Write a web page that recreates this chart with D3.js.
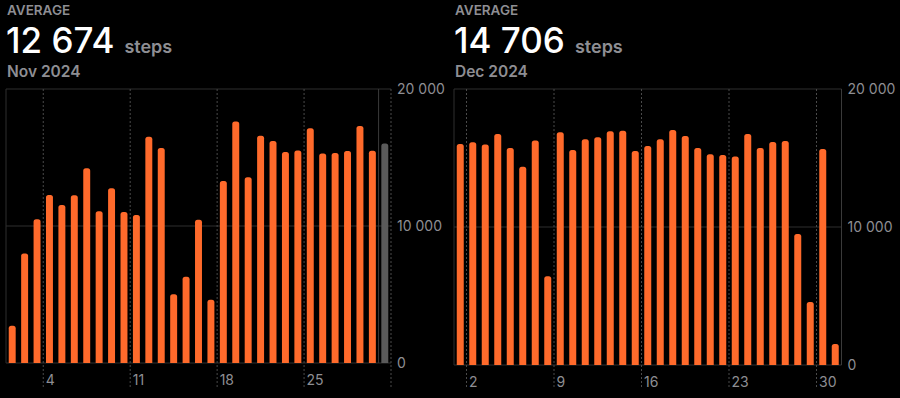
<!DOCTYPE html>
<html>
<head>
<meta charset="utf-8">
<script src="https://cdn.jsdelivr.net/npm/d3@7"></script>
<style>
  html, body { margin: 0; padding: 0; background: #000; }
  svg { display: block; font-family: Inter, "Noto Sans", sans-serif; }
</style>
</head>
<body>
<script>
// daily step counts
var novSteps = [2720, 8000, 10490, 12260, 11530, 12240, 14210, 11070, 12750, 11020,
                10800, 16520, 15690, 5010, 6300, 10460, 4620, 13290, 17620, 13550,
                16590, 16200, 15400, 15520, 17130, 15300, 15330, 15470, 17300, 15500];
var novNextDay = [16030];   // Dec 1, drawn grey after the month
var decSteps = [16010, 16140, 15970, 16740, 15730, 14370, 16260, 6430, 16860, 15580,
                16350, 16500, 16930, 16980, 15510, 15870, 16350, 17030, 16590, 15730,
                15270, 15220, 15100, 16740, 15730, 16160, 16230, 9490, 4570, 15650, 1520];
var averages = [12674, 14706];
var monthLabels = ["Nov 2024", "Dec 2024"];
var novTicks = [4, 11, 18, 25];
var decTicks = [2, 9, 16, 23, 30];
var yTicks = [0, 10000, 20000];

var w = 900, h = 398;
var orange = "#ff6a2b";
var grey = "#8e8e93";
var gridCol = "#2e2e2e";

var loc = d3.formatLocale({decimal: ".", thousands: " ", grouping: [3], currency: ["", ""]});
var fmt = loc.format(",");

var svg = d3.select("body").append("svg")
  .attr("width", w)
  .attr("height", h);

// bar with rounded top corners
function barPath(x, y, bw, bh, r) {
  r = Math.min(r, bh, bw / 2);
  return "M" + x + "," + (y + bh) +
    "V" + (y + r) +
    "Q" + x + "," + y + " " + (x + r) + "," + y +
    "H" + (x + bw - r) +
    "Q" + (x + bw) + "," + y + " " + (x + bw) + "," + (y + r) +
    "V" + (y + bh) + "Z";
}

function panel(p) {
  var g = svg.append("g");
  var days = d3.range(1, p.values.length + p.extra.length + 1);
  var all = p.values.map(function(v, i) { return {day: i + 1, v: v, extra: false}; })
    .concat(p.extra.map(function(v, i) { return {day: p.values.length + i + 1, v: v, extra: true}; }));

  var x = d3.scaleBand()
    .domain(days)
    .range([p.x0, p.x1])
    .paddingInner(0.44)
    .paddingOuter(0.22);
  var step = x.step();
  var slot = function(d) { return p.x0 + (d - 1) * step; };

  var y = d3.scaleLinear()
    .domain([0, 20000])
    .range([p.base, p.top]);

  // header
  g.append("text").attr("x", p.hx).attr("y", 15)
    .attr("fill", grey).style("font-size", "13.5px").style("font-weight", 600)
    .text("AVERAGE");
  var big = g.append("text").attr("x", p.hx - 1).attr("y", 52.5)
    .attr("fill", "#fff").style("font-size", "35px").style("font-weight", 500)
    .text(fmt(p.avg));
  var bw = big.node().getComputedTextLength();
  g.append("text").attr("x", p.hx + bw + 9).attr("y", 52.5)
    .attr("fill", grey).style("font-size", "18px").style("font-weight", 600)
    .text("steps");
  g.append("text").attr("x", p.hx).attr("y", 77)
    .attr("fill", grey).style("font-size", "15.5px").style("font-weight", 600)
    .text(p.month);

  var xEnd = p.x1;
  var monthEnd = slot(p.values.length + 1);

  // horizontal grid
  g.selectAll(".hg").data(yTicks).enter().append("line")
    .attr("x1", p.x0).attr("x2", xEnd)
    .attr("y1", function(d) { return y(d); })
    .attr("y2", function(d) { return y(d); })
    .attr("stroke", gridCol).attr("stroke-width", 1);

  // left border + month end line
  g.append("line").attr("x1", p.x0).attr("x2", p.x0)
    .attr("y1", p.top).attr("y2", p.base)
    .attr("stroke", gridCol);
  g.append("line").attr("x1", monthEnd).attr("x2", monthEnd)
    .attr("y1", p.top).attr("y2", p.base)
    .attr("stroke", "#3a3a3a");

  // dashed week lines
  var dashed = p.ticks.map(slot);
  if (p.extra.length) dashed.push(xEnd);
  g.selectAll(".vg").data(dashed).enter().append("line")
    .attr("x1", function(d) { return d; })
    .attr("x2", function(d) { return d; })
    .attr("y1", p.top).attr("y2", p.base + 24)
    .attr("stroke", "#4a4a4a")
    .attr("stroke-dasharray", "2,2");

  // bars
  g.selectAll(".bar").data(all).enter().append("path")
    .attr("d", function(d) {
      return barPath(x(d.day), y(d.v), x.bandwidth(), y(0) - y(d.v), 2.5);
    })
    .attr("fill", function(d) { return d.extra ? "#5a5a5a" : orange; });

  // day labels
  g.selectAll(".xl").data(p.ticks).enter().append("text")
    .attr("x", function(d) { return slot(d) + 2.5; })
    .attr("y", p.base + 22)
    .attr("fill", grey).style("font-size", "14px")
    .text(function(d) { return d; });

  // value axis
  var yAxis = d3.axisRight(y).tickValues(yTicks).tickSize(0).tickPadding(0)
    .tickFormat(fmt);
  var ax = g.append("g")
    .attr("transform", "translate(" + (xEnd + 6) + ",0)")
    .call(yAxis);
  ax.select(".domain").remove();
  ax.selectAll("text").attr("fill", grey).style("font-size", "14px")
    .style("font-family", "Inter, sans-serif");
}

panel({values: novSteps, extra: novNextDay, avg: averages[0], month: monthLabels[0],
       ticks: novTicks, x0: 6, x1: 391, top: 89, base: 363, hx: 7});
panel({values: decSteps, extra: [], avg: averages[1], month: monthLabels[1],
       ticks: decTicks, x0: 454, x1: 841.5, top: 89, base: 365, hx: 455});
</script>
</body>
</html>
